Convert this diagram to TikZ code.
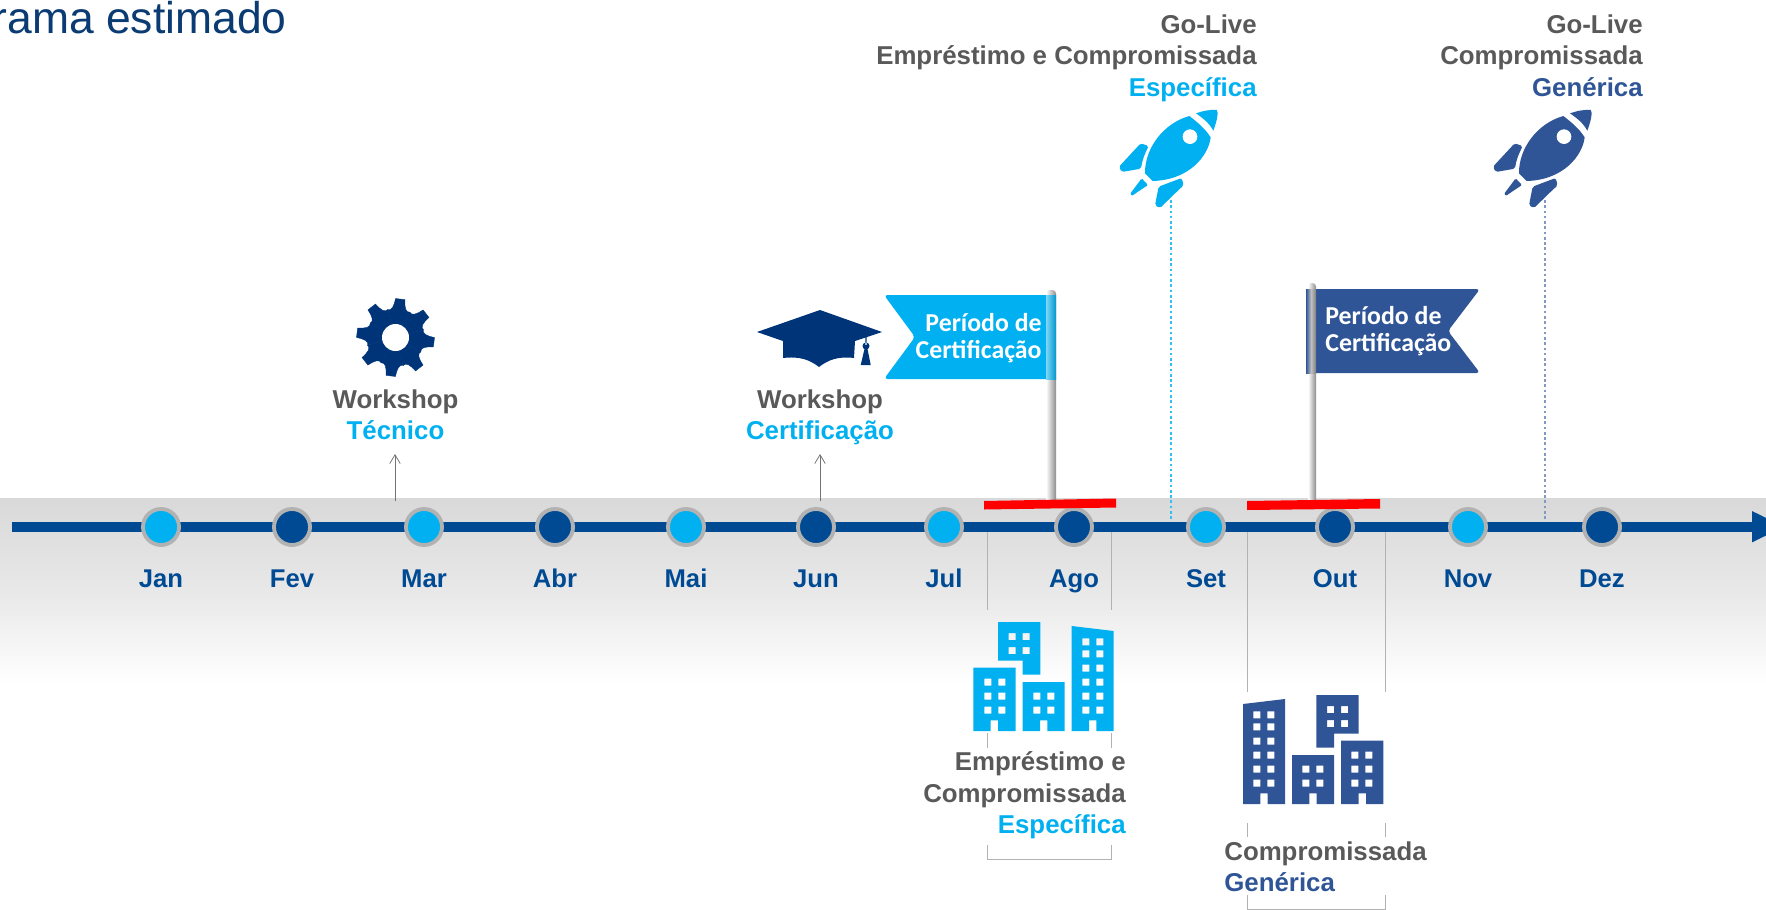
\documentclass[tikz,border=0pt]{standalone}
\usepackage{fontspec}
\setmainfont{Liberation Sans}
\newfontfamily\flagfont{Carlito}
\usetikzlibrary{arrows.meta}
\definecolor{navy}{HTML}{004A93}
\definecolor{sky}{HTML}{00B0F0}
\definecolor{deep}{HTML}{003478}
\definecolor{royal}{HTML}{2F5597}
\definecolor{greytext}{HTML}{595959}
\definecolor{titleblue}{HTML}{0B3B73}
\tikzset{
  monthdot/.style={circle,draw=black!30,line width=2.2pt,minimum size=20.5pt,inner sep=0pt},
  skydot/.style={monthdot,fill=sky},
  navydot/.style={monthdot,fill=navy},
  monthlabel/.style={anchor=base,text=navy,font=\fontsize{14.6pt}{17.9pt}\selectfont\bfseries},
  caption/.style={font=\fontsize{14.7pt}{17.9pt}\selectfont\bfseries,text=greytext,inner sep=0pt},
  flagtext/.style={text=white,inner sep=0pt,font=\flagfont\fontsize{14.7pt}{15.7pt}\selectfont\bfseries},
  bracket/.style={draw=black!30,line width=0.5pt},
  uparrow/.style={draw=black!55,line width=0.45pt,-{Straight Barb[length=5pt,width=6pt]}},
  dotline/.style={line width=0.6pt,dash pattern=on 1.5pt off 1.5pt},
}
\newcommand{\rocket}{%
  \fill (328,78) .. controls (350,95) and (375,115) .. (392,142)
        .. controls (386,195) and (330,270) .. (218,273)
        -- (195,250) .. controls (194,175) and (250,100) .. (328,78) -- cycle;
  \fill[white] (330,140) circle [radius=22];
  \fill (348,70) .. controls (370,62) and (395,58) .. (410,60)
        .. controls (416,65) and (412,90) .. (400,122)
        .. controls (388,100) and (370,85) .. (348,70) -- cycle;
  \fill[rounded corners=1pt] (117,230) -- (182,160) -- (206,168)
        .. controls (195,190) and (186,212) .. (183,236) -- (125,246) -- cycle;
  \fill[rounded corners=0.7pt] (185,265) -- (204,285) -- (155,318) -- (150,312) -- cycle;
  \fill[rounded corners=1pt] (236,290) -- (305,264) -- (311,286)
        .. controls (290,305) and (265,330) .. (240,354) -- (225,346) -- cycle;
}
\newcommand{\towers}{%
  \fill[even odd rule]
    (70,353) -- (197,353) -- (197,543) -- (144,543) -- (144,511) -- (122,511) -- (122,543) -- (70,543) -- cycle
    (144,216) -- (271,216) -- (271,374) -- (218,374) -- (218,332) -- (144,332) -- cycle
    (218,396) -- (344,396) -- (344,543) -- (292,543) -- (292,511) -- (270,511) -- (270,543) -- (218,543) -- cycle
    (365,228) -- (491,243) -- (491,543) -- (439,543) -- (439,511) -- (417,511) -- (417,543) -- (365,543) -- cycle
    \foreach \u in {113,155} { \foreach \v in {396,438,480} { (\u-10,\v-10) rectangle (\u+11,\v+11) } }
    \foreach \u in {186,228} { \foreach \v in {259,301} { (\u-10,\v-10) rectangle (\u+11,\v+11) } }
    \foreach \u in {260,302} { \foreach \v in {438,480} { (\u-10,\v-10) rectangle (\u+11,\v+11) } }
    \foreach \u in {407,449} { \foreach \v in {275,311,354,396,438,480} { (\u-10,\v-10) rectangle (\u+11,\v+11) } };
}
\begin{document}
\begin{tikzpicture}[x=0.02cm,y=-0.02cm]
\useasboundingbox (0,0) rectangle (1766,910);
\clip (0,0) rectangle (1766,910);
% grey band
\shade[top color=black!15,bottom color=white,middle color=black!9] (0,498) rectangle (1766,684);
% title
\node[anchor=base east,inner sep=0pt,text=titleblue,font=\fontsize{25.3pt}{28pt}\selectfont] (title) at (287,33) {rama estimado};
% timeline
\coordinate (tlstart) at (12,526.7);
\coordinate (tlend) at (1785,526.7);
\draw[navy,line width=5.6pt,-{Triangle[length=18.7pt,width=16.2pt]}] (tlstart) -- (tlend);
% brackets
\draw[bracket] (987,532) -- (987,610);
\draw[bracket] (1111,532) -- (1111,610);
\draw[bracket] (987,733) -- (987,748);
\draw[bracket] (1111,733) -- (1111,748);
\draw[bracket] (987,845) -- (987,859) -- (1111,859) -- (1111,845);
\draw[bracket] (1247,532) -- (1247,692);
\draw[bracket] (1385,532) -- (1385,692);
\draw[bracket] (1247,823) -- (1247,837);
\draw[bracket] (1385,823) -- (1385,837);
\draw[bracket] (1247,895) -- (1247,909) -- (1385,909) -- (1385,895);
% months
\foreach \nm/\xx/\st/\lab in {jan/161/skydot/Jan,fev/292/navydot/Fev,mar/424/skydot/Mar,abr/555/navydot/Abr,mai/686/skydot/Mai,jun/816/navydot/Jun,jul/944/skydot/Jul,ago/1074/navydot/Ago,set/1206/skydot/Set,out/1335/navydot/Out,nov/1468/skydot/Nov,dez/1602/navydot/Dez}{
  \node[\st] (\nm) at (\xx,527) {};
  \node[monthlabel] (\nm l) at (\xx,587) {\lab};
}
% up arrows
\coordinate (a1s) at (395,501); \coordinate (a1e) at (395,454);
\coordinate (a2s) at (820,501); \coordinate (a2e) at (820,454);
\draw[uparrow] (a1s) -- (a1e);
\draw[uparrow] (a2s) -- (a2e);
% dotted
\coordinate (d1s) at (1171,200); \coordinate (d1e) at (1171,520);
\coordinate (d2s) at (1545,200); \coordinate (d2e) at (1545,520);
\draw[dotline,sky!80] (d1s) -- (d1e);
\draw[dotline,royal!60] (d2s) -- (d2e);
% rockets
\begin{scope}[shift={(1080,90)},x=0.00667cm,y=-0.00667cm,sky] \rocket \end{scope}
\begin{scope}[shift={(1454,90)},x=0.00667cm,y=-0.00667cm,royal] \rocket \end{scope}
% gear
\begin{scope}[shift={(395.5,337.5)}]
\foreach \a in {7,52,97,142,187,232,277,322}{
  \fill[deep,draw=deep,line width=0.2pt] (0,0) -- (\a+67.5:29) .. controls (\a+75:27) and (\a+80:31) .. (\a+83:39) -- (\a+97:39) .. controls (\a+100:31) and (\a+105:27) .. (\a+112.5:29) -- cycle;
}
\fill[white] (0,0) circle [radius=13.5];
\end{scope}
% cap
\fill[deep] (820,310) -- (882,332) -- (855,341) -- (854,358) .. controls (838,356) and (828,360) .. (819,367) .. controls (810,360) and (800,356) .. (783,358) -- (783,341) -- (757,332) -- cycle;
\fill[deep] (865.3,337) rectangle (866.7,345) (866,346) circle [radius=3.5] (864.5,349) -- (867.5,349) -- (870.7,365) -- (860.7,365) -- cycle;
% flags
\shade[left color=white,right color=black!45,rounded corners=2] (1046,290) rectangle (1056,506);
\fill[sky,rounded corners=2] (1050,295) -- (884,295) -- (915,337) -- (884,379) -- (1050,379) -- cycle;
\shade[left color=sky!50,right color=sky!85!black] (1046,295) rectangle (1056,379);
\node[flagtext,align=right,anchor=east] (f1) at (1042,338) {Período de\\Certificação};
\shade[left color=white,right color=black!45,rounded corners=2] (1308,283) rectangle (1316,506);
\fill[royal,rounded corners=2] (1312,289) -- (1480,289) -- (1448,331) -- (1480,373) -- (1312,373) -- cycle;
\shade[left color=royal,right color=black!50,middle color=black!25] (1306,289) rectangle (1316,373);
\node[flagtext,align=left,anchor=west] (f2) at (1325,331) {Período de\\Certificação};
% red bars
\fill[red] (984,501) -- (1116,498.5) -- (1116,507.5) -- (984,509.5) -- cycle;
\fill[red] (1247,501) -- (1380,499) -- (1380,508.5) -- (1247,510) -- cycle;
% towers
\begin{scope}[shift={(950,550)},x=0.00667cm,y=-0.00667cm,sky] \towers \end{scope}
\begin{scope}[shift={(1406.7,623)},x=-0.00667cm,y=-0.00667cm,royal] \towers \end{scope}
% captions
\node[caption,align=right,anchor=east] (c1) at (1257,58) {Go-Live\\Empréstimo e Compromissada\\\textcolor{sky}{Específica}};
\node[caption,align=right,anchor=east] (c2) at (1643,55.5) {Go-Live\\Compromissada\\\textcolor{royal}{Genérica}};
\node[caption,align=center] (c3) at (395.5,414.5) {Workshop\\\textcolor{sky}{Técnico}};
\node[caption,align=center] (c4) at (820,417.5) {Workshop\\\textcolor{sky}{Certificação}};
\node[caption,align=right,anchor=east] (c5) at (1126,795.5) {Empréstimo e\\Compromissada\\\textcolor{sky}{Específica}};
\node[caption,align=left,anchor=west] (c6) at (1224,867) {Compromissada\\\textcolor{royal}{Genérica}};
\end{tikzpicture}
\end{document}
